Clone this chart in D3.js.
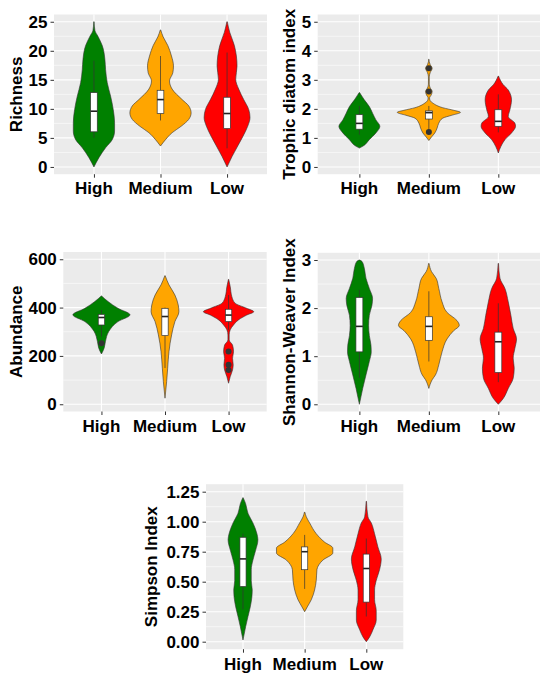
<!DOCTYPE html>
<html><head><meta charset="utf-8">
<script src="https://cdn.jsdelivr.net/npm/d3@7"></script>
<style>body{margin:0;background:#fff;}svg{display:block;}</style>
</head><body>
<script>
// ---------- DATA ----------
const categories = ["High", "Medium", "Low"];
const fillColors = ["#008000", "#FFA500", "#FF0000"];

// violin profiles: [value, half-width as fraction of category spacing]
const richnessTicks = [0, 5, 10, 15, 20, 25];
const richnessViolin = [
  [[0,0],[1.6,0.075],[3.3,0.175],[4.7,0.275],[6.2,0.31],[7.6,0.31],[9.9,0.29],[12.2,0.25],[14.5,0.2],[16.8,0.175],[18.5,0.165],[20.9,0.125],[22.5,0.06],[23.5,0.015],[25,0.003]],
  [[3.6,0],[4.7,0.075],[5.9,0.175],[7,0.31],[8.2,0.425],[9.3,0.46],[10.5,0.425],[11.6,0.325],[13.4,0.175],[14.8,0.135],[16.2,0.185],[17.4,0.195],[19.1,0.165],[20.9,0.11],[22.4,0.04],[23.6,0.003]],
  [[0,0],[1.8,0.075],[3.6,0.16],[5.3,0.24],[7,0.31],[8.5,0.345],[9.9,0.325],[11.6,0.25],[13.4,0.175],[15.1,0.13],[17.4,0.15],[19.1,0.14],[20.9,0.11],[23.2,0.04],[25,0.003]]
];
// box: [lower whisker, q1, median, q3, upper whisker]
const richnessBox = [[5.0,6.05,9.6,12.8,18.3],[8.0,9.2,11.6,13.2,19.1],[3.2,6.6,9.2,12.0,19.7]];
const richnessOutliers = [[],[],[]];

const trophicTicks = [0, 1, 2, 3, 4, 5];
const trophicViolin = [
  [[0.65,0],[0.71,0.048],[0.94,0.143],[1.17,0.238],[1.40,0.295],[1.62,0.238],[1.85,0.19],[2.08,0.143],[2.31,0.071],[2.56,0.003]],
  [[0.91,0],[1.03,0.038],[1.17,0.086],[1.34,0.119],[1.51,0.143],[1.68,0.2],[1.78,0.33],[1.88,0.455],[1.95,0.36],[2.04,0.2],[2.2,0.057],[2.28,0.02],[2.38,0.01],[2.46,0.03],[2.6,0.048],[2.72,0.02],[2.85,0.006],[3.1,0.006],[3.25,0.02],[3.4,0.048],[3.52,0.02],[3.62,0.006],[3.71,0.002]],
  [[0.48,0],[0.71,0.038],[0.94,0.095],[1.17,0.19],[1.40,0.248],[1.51,0.238],[1.74,0.143],[1.97,0.167],[2.31,0.19],[2.65,0.143],[2.83,0.071],[3.13,0.003]]
];
const trophicBox = [[1.11,1.3,1.5,1.8,2.1],[1.3,1.65,1.87,1.93,2.1],[1.19,1.4,1.57,1.97,2.5]];
const trophicOutliers = [[],[3.4,2.6,1.2],[]];

const abundanceTicks = [0, 200, 400, 600];
const abundanceViolin = [
  [[208,0],[232,0.042],[259,0.0625],[301,0.115],[342,0.26],[370,0.45],[397,0.26],[425,0.104],[448,0.003]],
  [[25,0],[94,0.026],[149,0.042],[218,0.0625],[287,0.104],[342,0.156],[383,0.219],[411,0.208],[452,0.156],[494,0.0625],[532,0.003]],
  [[87,0],[114,0.026],[142,0.0625],[163,0.073],[190,0.0625],[218,0.078],[245,0.0625],[266,0.01],[287,0.01],[308,0.026],[328,0.078],[349,0.156],[369,0.286],[383,0.396],[397,0.286],[418,0.104],[445,0.052],[487,0.026],[517,0.002]]
];
const abundanceBox = [[280,328,359,372,390],[150,284,363,397,400],[308,342,369,393,452]];
const abundanceOutliers = [[252],[],[218,163,142]];

const shannonTicks = [0, 1, 2, 3];
const shannonViolin = [
  [[0,0],[0.33,0.048],[0.61,0.095],[0.89,0.143],[1.09,0.171],[1.23,0.167],[1.43,0.143],[1.64,0.133],[1.85,0.143],[2.06,0.181],[2.2,0.19],[2.41,0.143],[2.62,0.095],[2.83,0.071],[2.97,0.038],[3.0,0.003]],
  [[0.33,0],[0.51,0.048],[0.61,0.095],[0.82,0.143],[1.09,0.19],[1.36,0.262],[1.53,0.357],[1.64,0.438],[1.74,0.405],[1.91,0.262],[2.13,0.19],[2.41,0.143],[2.62,0.105],[2.76,0.038],[2.93,0.003]],
  [[0,0],[0.12,0.071],[0.33,0.143],[0.54,0.214],[0.75,0.229],[0.96,0.214],[1.16,0.238],[1.36,0.262],[1.58,0.214],[1.85,0.181],[2.13,0.143],[2.41,0.095],[2.62,0.024],[2.93,0.003]]
];
const shannonBox = [[0.55,1.09,1.62,2.22,2.38],[0.89,1.33,1.62,1.82,2.35],[0.46,0.66,1.3,1.5,2.1]];
const shannonOutliers = [[],[],[]];

const simpsonTicks = [0, 0.25, 0.5, 0.75, 1.0, 1.25];
const simpsonViolin = [
  [[0.014,0],[0.125,0.043],[0.21,0.081],[0.29,0.118],[0.375,0.145],[0.43,0.15],[0.51,0.134],[0.60,0.134],[0.68,0.161],[0.76,0.204],[0.85,0.242],[0.90,0.226],[0.99,0.161],[1.07,0.081],[1.15,0.043],[1.20,0.003]],
  [[0.25,0],[0.29,0.043],[0.35,0.108],[0.43,0.161],[0.51,0.188],[0.60,0.199],[0.68,0.296],[0.74,0.457],[0.78,0.457],[0.83,0.323],[0.90,0.188],[0.99,0.081],[1.04,0.027],[1.08,0.003]],
  [[0,0],[0.04,0.054],[0.10,0.108],[0.18,0.161],[0.26,0.161],[0.35,0.134],[0.43,0.134],[0.51,0.161],[0.60,0.215],[0.69,0.242],[0.79,0.188],[0.90,0.134],[0.99,0.081],[1.04,0.027],[1.17,0.003]]
];
const simpsonBox = [[0.27,0.46,0.69,0.87,0.9],[0.44,0.60,0.75,0.79,0.89],[0.21,0.33,0.61,0.73,0.86]];
const simpsonOutliers = [[],[],[]];

// ---------- LAYOUT ----------
const W = 550, H = 677;
const FONT = "'Liberation Sans', Arial, sans-serif";
const FS = 17;
const panels = [
  {title:"Richness", ticks:richnessTicks, fmt:d3.format("d"), violin:richnessViolin, box:richnessBox, out:richnessOutliers,
   x0:54, x1:267, y0:14.5, y1:174.2, dom:[-1.25,26.25], titleX:21.7, catY:194.3},
  {title:"Trophic diatom index", ticks:trophicTicks, fmt:d3.format("d"), violin:trophicViolin, box:trophicBox, out:trophicOutliers,
   x0:317.7, x1:540, y0:14.5, y1:174.2, dom:[-0.25,5.25], titleX:294.7, catY:194.3},
  {title:"Abundance", ticks:abundanceTicks, fmt:d3.format("d"), violin:abundanceViolin, box:abundanceBox, out:abundanceOutliers,
   x0:63.3, x1:266.7, y0:252, y1:411.5, dom:[-30,630], titleX:21.7, catY:431.7},
  {title:"Shannon-Weaver Index", ticks:shannonTicks, fmt:d3.format("d"), violin:shannonViolin, box:shannonBox, out:shannonOutliers,
   x0:317.7, x1:540, y0:252.8, y1:411.5, dom:[-0.15,3.15], titleX:294.7, catY:431.7},
  {title:"Simpson Index", ticks:simpsonTicks, fmt:d3.format(".2f"), violin:simpsonViolin, box:simpsonBox, out:simpsonOutliers,
   x0:206, x1:403.3, y0:484.2, y1:649.2, dom:[-0.0625,1.3125], titleX:157.4, catY:670}
];

const svg = d3.select("body").append("svg").attr("width", W).attr("height", H)
  .style("font-family", FONT);

panels.forEach(p => {
  const y = d3.scaleLinear().domain(p.dom).range([p.y1, p.y0]);
  const x = d3.scalePoint().domain(categories).range([p.x0, p.x1]).padding(0.6);
  const band = x.step();
  const g = svg.append("g");

  g.append("rect").attr("x", p.x0).attr("y", p.y0).attr("width", p.x1 - p.x0).attr("height", p.y1 - p.y0)
    .attr("fill", "#EBEBEB");
  const step = p.ticks[1] - p.ticks[0];
  const minors = p.ticks.slice(0, -1).map(t => t + step / 2)
    .concat([p.ticks[0] - step / 2, p.ticks[p.ticks.length - 1] + step / 2])
    .filter(v => v > p.dom[0] && v < p.dom[1]);
  g.selectAll(".minor").data(minors).join("line")
    .attr("x1", p.x0).attr("x2", p.x1).attr("y1", d => y(d)).attr("y2", d => y(d))
    .attr("stroke", "#fff").attr("stroke-width", 0.55);
  g.selectAll(".major").data(p.ticks).join("line")
    .attr("x1", p.x0).attr("x2", p.x1).attr("y1", d => y(d)).attr("y2", d => y(d))
    .attr("stroke", "#fff").attr("stroke-width", 1.1);
  g.selectAll(".vmajor").data(categories).join("line")
    .attr("x1", d => x(d)).attr("x2", d => x(d)).attr("y1", p.y0).attr("y2", p.y1)
    .attr("stroke", "#fff").attr("stroke-width", 1.1);

  const yAxis = d3.axisLeft(y).tickValues(p.ticks).tickFormat(p.fmt).tickSize(3.5).tickPadding(3);
  const ya = g.append("g").attr("transform", `translate(${p.x0},0)`).call(yAxis);
  ya.select(".domain").remove();
  ya.selectAll(".tick line").attr("stroke", "#333").attr("stroke-width", 1);
  ya.selectAll(".tick text").attr("fill", "#000").style("font-size", FS + "px")
    .style("font-weight", "bold").style("font-family", FONT);

  const xAxis = d3.axisBottom(x).tickSize(3.5).tickPadding(3);
  const xa = g.append("g").attr("transform", `translate(0,${p.y1})`).call(xAxis);
  xa.select(".domain").remove();
  xa.selectAll(".tick line").attr("stroke", "#333").attr("stroke-width", 1);
  xa.selectAll(".tick text").remove();
  g.selectAll(".cat").data(categories).join("text")
    .attr("x", d => x(d)).attr("y", p.catY).attr("text-anchor", "middle")
    .style("font-size", FS + "px").style("font-weight", "bold").attr("fill", "#000").text(d => d);

  g.append("text").attr("transform", `translate(${p.titleX},${(p.y0 + p.y1) / 2}) rotate(-90)`)
    .attr("text-anchor", "middle").style("font-size", FS + "px").style("font-weight", "bold")
    .attr("fill", "#000").text(p.title);

  categories.forEach((c, i) => {
    const cx = x(c);
    const area = d3.area()
      .y(d => y(d[0]))
      .x0(d => cx - d[1] * band)
      .x1(d => cx + d[1] * band)
      .curve(d3.curveMonotoneY);
    g.append("path").datum(p.violin[i]).attr("d", area)
      .attr("fill", fillColors[i]).attr("stroke", "#333").attr("stroke-width", 0.6);

    const b = p.box[i];
    const bw = 0.05 * band;
    g.append("line").attr("x1", cx).attr("x2", cx).attr("y1", y(b[0])).attr("y2", y(b[1]))
      .attr("stroke", "#333").attr("stroke-width", 0.7);
    g.append("line").attr("x1", cx).attr("x2", cx).attr("y1", y(b[3])).attr("y2", y(b[4]))
      .attr("stroke", "#333").attr("stroke-width", 0.7);
    g.append("rect").attr("x", cx - bw).attr("width", 2 * bw)
      .attr("y", y(b[3])).attr("height", y(b[1]) - y(b[3]))
      .attr("fill", "#fff").attr("stroke", "#333").attr("stroke-width", 0.7);
    g.append("line").attr("x1", cx - bw).attr("x2", cx + bw).attr("y1", y(b[2])).attr("y2", y(b[2]))
      .attr("stroke", "#222").attr("stroke-width", 1.6);
    g.selectAll(null).data(p.out[i]).join("circle")
      .attr("cx", cx).attr("cy", d => y(d)).attr("r", 3)
      .attr("fill", "#333").attr("stroke", "none");
  });
});
</script>
</body></html>
